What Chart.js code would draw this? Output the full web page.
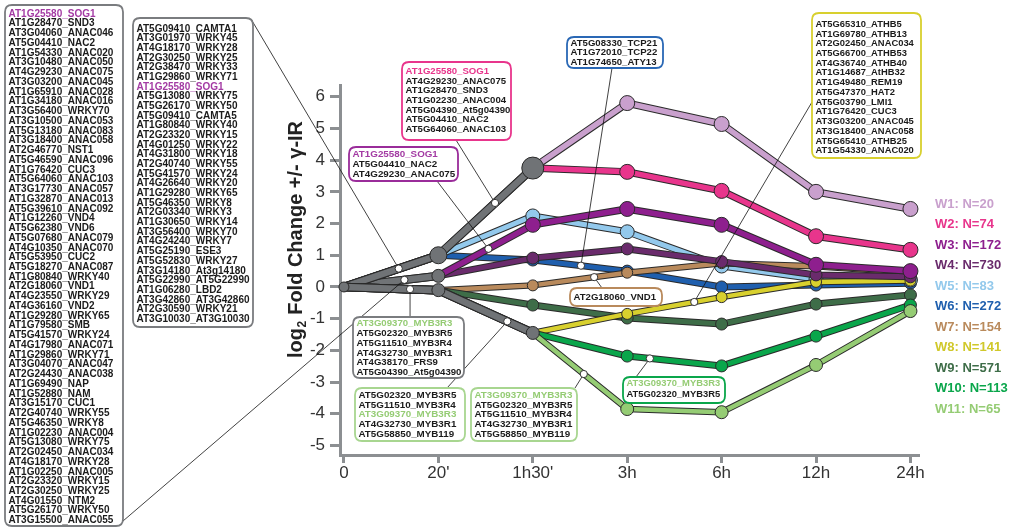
<!DOCTYPE html>
<html><head><meta charset="utf-8">
<script src="https://cdn.jsdelivr.net/npm/chart.js@4.4.0/dist/chart.umd.min.js"></script>
<style>html,body{margin:0;padding:0;background:#fff}#wrap{width:1013px;height:529px;position:relative}</style>
</head><body><div id="wrap"><canvas id="c" width="1013" height="529"></canvas></div>
<script>
// ---------------- DATA ----------------
const timeLabels = ["0", "20'", "1h30'", "3h", "6h", "12h", "24h"];
const yTicks = [-5, -4, -3, -2, -1, 0, 1, 2, 3, 4, 5, 6];
const clusterNames = ["W1", "W2", "W3", "W4", "W5", "W6", "W7", "W8", "W9", "W10", "W11"];
const clusterN = [20, 74, 172, 730, 83, 272, 154, 141, 571, 113, 65];
// mean log2 fold change per time point (0, 20', 1h30', 3h, 6h, 12h, 24h)
const W1  = [0, 1.00, 3.75, 5.80, 5.14, 3.00, 2.46];
const W2  = [0, 1.00, 3.75, 3.63, 3.03, 1.60, 1.17];
const W3  = [0, 0.35, 1.96, 2.46, 1.96, 0.70, 0.50];
const W4  = [0, 0.35, 0.91, 1.20, 0.80, 0.38, 0.32];
const W5  = [0, 1.00, 2.24, 1.74, 0.66, 0.25, 0.22];
const W6  = [0, 1.00, 0.85, 0.50, 0.00, 0.06, 0.12];
const W7  = [0, -0.10, 0.05, 0.45, 0.75, 0.65, 0.45];
const W8  = [0, -0.10, -1.45, -0.85, -0.32, 0.16, 0.20];
const W9  = [0, -0.10, -0.57, -0.98, -1.17, -0.54, -0.25];
const W10 = [0, -0.10, -1.45, -2.18, -2.49, -1.55, -0.57];
const W11 = [0, -0.10, -1.45, -3.85, -3.95, -2.46, -0.76];
// index of the time point where each cluster splits off the shared (grey) trunk
const branchAt = [2, 2, 1, 1, 1, 1, 1, 2, 1, 2, 2];

const genesLeft = ["AT1G25580_SOG1","AT1G28470_SND3","AT3G04060_ANAC046","AT5G04410_NAC2","AT1G54330_ANAC020","AT3G10480_ANAC050","AT4G29230_ANAC075","AT3G03200_ANAC045","AT1G65910_ANAC028","AT1G34180_ANAC016","AT3G56400_WRKY70","AT3G10500_ANAC053","AT5G13180_ANAC083","AT3G18400_ANAC058","AT2G46770_NST1","AT5G46590_ANAC096","AT1G76420_CUC3","AT5G64060_ANAC103","AT3G17730_ANAC057","AT1G32870_ANAC013","AT5G39610_ANAC092","AT1G12260_VND4","AT5G62380_VND6","AT5G07680_ANAC079","AT4G10350_ANAC070","AT5G53950_CUC2","AT5G18270_ANAC087","AT1G80840_WRKY40","AT2G18060_VND1","AT4G23550_WRKY29","AT4G36160_VND2","AT1G29280_WRKY65","AT1G79580_SMB","AT5G41570_WRKY24","AT4G17980_ANAC071","AT1G29860_WRKY71","AT3G04070_ANAC047","AT2G24430_ANAC038","AT1G69490_NAP","AT1G52880_NAM","AT3G15170_CUC1","AT2G40740_WRKY55","AT5G46350_WRKY8","AT1G02230_ANAC004","AT5G13080_WRKY75","AT2G02450_ANAC034","AT4G18170_WRKY28","AT1G02250_ANAC005","AT2G23320_WRKY15","AT2G30250_WRKY25","AT4G01550_NTM2","AT5G26170_WRKY50","AT3G15500_ANAC055"];
const genesSecond = ["AT5G09410_CAMTA1","AT3G01970_WRKY45","AT4G18170_WRKY28","AT2G30250_WRKY25","AT2G38470_WRKY33","AT1G29860_WRKY71","AT1G25580_SOG1","AT5G13080_WRKY75","AT5G26170_WRKY50","AT5G09410_CAMTA5","AT1G80840_WRKY40","AT2G23320_WRKY15","AT4G01250_WRKY22","AT4G31800_WRKY18","AT2G40740_WRKY55","AT5G41570_WRKY24","AT4G26640_WRKY20","AT1G29280_WRKY65","AT5G46350_WRKY8","AT2G03340_WRKY3","AT1G30650_WRKY14","AT3G56400_WRKY70","AT4G24240_WRKY7","AT5G25190_ESE3","AT5G52830_WRKY27","AT3G14180_At3g14180","AT5G22990_AT5G22990","AT1G06280_LBD2","AT3G42860_AT3G42860","AT2G30590_WRKY21","AT3G10030_AT3G10030"];
const genesPink = ["AT1G25580_SOG1","AT4G29230_ANAC075","AT1G28470_SND3","AT1G02230_ANAC004","AT5G04390_At5g04390","AT5G04410_NAC2","AT5G64060_ANAC103"];
const genesPurple = ["AT1G25580_SOG1","AT5G04410_NAC2","AT4G29230_ANAC075"];
const genesBlue = ["AT5G08330_TCP21","AT1G72010_TCP22","AT1G74650_ATY13"];
const genesYellow = ["AT5G65310_ATHB5","AT1G69780_ATHB13","AT2G02450_ANAC034","AT5G66700_ATHB53","AT4G36740_ATHB40","AT1G14687_AtHB32","AT1G49480_REM19","AT5G47370_HAT2","AT5G03790_LMI1","AT1G76420_CUC3","AT3G03200_ANAC045","AT3G18400_ANAC058","AT5G65410_ATHB25","AT1G54330_ANAC020"];
const genesBrown = ["AT2G18060_VND1"];
const genesGrey = ["AT3G09370_MYB3R3","AT5G02320_MYB3R5","AT5G11510_MYB3R4","AT4G32730_MYB3R1","AT4G38170_FRS9","AT5G04390_At5g04390"];
const genesLG1 = ["AT5G02320_MYB3R5","AT5G11510_MYB3R4","AT3G09370_MYB3R3","AT4G32730_MYB3R1","AT5G58850_MYB119"];
const genesLG2 = ["AT3G09370_MYB3R3","AT5G02320_MYB3R5","AT5G11510_MYB3R4","AT4G32730_MYB3R1","AT5G58850_MYB119"];
const genesGreen = ["AT3G09370_MYB3R3","AT5G02320_MYB3R5"];

// ---------------- STYLE ----------------
const series = [W1, W2, W3, W4, W5, W6, W7, W8, W9, W10, W11];
const colors = ['#c9a0cd','#e8358c','#8e1f8e','#6a2b6c','#93c9ec','#1f5fae','#b98a5c','#d8d02e','#3e6d48','#0aa64b','#95cc74'];
const legendColors = ['#c9a0cd','#e8358c','#8e1f8e','#6a2b6c','#93c9ec','#1f5fae','#b98a5c','#d0c82a','#3e6d48','#0aa64b','#95cc74'];
const lineW = [5.5, 5.5, 5.5, 5, 5, 5, 4.5, 4.5, 5, 5, 4.5];
const ptR  = [7.5, 7.5, 7.5, 6, 7, 6, 5.5, 5.5, 6, 6, 6.5];
const grey = '#707376';
const outline = '#2a2a2a';
const axisGrey = '#8c8f92';
const drawOrder = [5, 4, 6, 8, 7, 9, 10, 3, 2, 1, 0]; // bottom -> top
const FONT = '"Liberation Sans", Arial, sans-serif';

let stack = [];
for (const k of drawOrder) {
  const b = branchAt[k];
  const pts = [];
  series[k].forEach((v, i) => { if (i >= b) pts.push({x: i, y: v}); });
  stack.push({data: pts, borderColor: outline, borderWidth: lineW[k] + 2, pointRadius: 0, clip: false,
    borderJoinStyle: 'round', borderCapStyle: 'round', tension: 0});
  stack.push({data: pts, borderColor: colors[k], borderWidth: lineW[k], clip: false,
    borderJoinStyle: 'round', borderCapStyle: 'round', tension: 0,
    pointRadius: pts.map((p, j) => j === 0 ? 0 : ptR[k]),
    pointBackgroundColor: colors[k], pointBorderColor: outline, pointBorderWidth: 1});
}
// grey trunk
const nodeMap = new Map();
for (let k = 0; k < series.length; k++) {
  const b = branchAt[k];
  const pts = series[k].slice(0, b + 1).map((v, i) => ({x: i, y: v}));
  stack.push({data: pts, borderColor: outline, borderWidth: 8.5, pointRadius: 0, clip: false, borderJoinStyle: 'round', borderCapStyle: 'round'});
  stack.push({data: pts, borderColor: grey, borderWidth: 6.5, pointRadius: 0, clip: false, borderJoinStyle: 'round', borderCapStyle: 'round'});
  pts.forEach(p => nodeMap.set(p.x + ':' + p.y, p));
}
const nodes = Array.from(nodeMap.values());
const nodeRadius = p => p.x === 0 ? 5 : (p.x === 2 && p.y > 0 ? 11 : (p.x === 1 && p.y > 0.5 ? 8.5 : 6.5));
stack.push({data: nodes, showLine: false, clip: false, pointRadius: nodes.map(nodeRadius),
  pointBackgroundColor: grey, pointBorderColor: outline, pointBorderWidth: 1});
const datasets = stack.reverse();

// ---------------- ANNOTATIONS ----------------
const interp = (arr, x) => { const i = Math.floor(x); const f = x - i; return arr[i] + (arr[i + 1] - arr[i]) * f; };
const boxes = [
  {x: 5,   y: 5,   w: 118, h: 521, c: '#7a7c7f', fs: 10,  t0: 14,  lh: 9.74, lines: genesLeft, hi: {'AT1G25580_SOG1': '#a33aa3'}},
  {x: 133, y: 18,  w: 120, h: 309, c: '#7a7c7f', fs: 10,  t0: 29,  lh: 9.67, lines: genesSecond, hi: {'AT1G25580_SOG1': '#a33aa3'}},
  {x: 402, y: 62,  w: 109, h: 78,  c: '#e8358c', fs: 9.6, t0: 71.5, lh: 9.6, lines: genesPink, hi: {'AT1G25580_SOG1': '#e8358c'}},
  {x: 349, y: 147, w: 109, h: 34,  c: '#9a2c9a', fs: 9.8, t0: 154, lh: 10, lines: genesPurple, hi: {'AT1G25580_SOG1': '#a33aa3'}},
  {x: 567, y: 37,  w: 96,  h: 31,  c: '#2a68b5', fs: 9.6, t0: 43,  lh: 9.5, lines: genesBlue, hi: {}},
  {x: 812, y: 13,  w: 109, h: 145, c: '#d8d02e', fs: 9.4, t0: 24.3, lh: 9.72, lines: genesYellow, hi: {}},
  {x: 570, y: 288, w: 92,  h: 18,  c: '#b98a5c', fs: 9.6, t0: 297, lh: 10, lines: genesBrown, hi: {}},
  {x: 353, y: 317, w: 111, h: 61,  c: '#7a7c7f', fs: 9.6, t0: 323.5, lh: 9.8, lines: genesGrey, hi: {'AT3G09370_MYB3R3': '#95cc74'}},
  {x: 355, y: 388, w: 110, h: 53,  c: '#a8d690', fs: 9.8, t0: 395, lh: 9.8, lines: genesLG1, hi: {'AT3G09370_MYB3R3': '#95cc74'}},
  {x: 471, y: 388, w: 106, h: 53,  c: '#a8d690', fs: 9.8, t0: 395, lh: 9.8, lines: genesLG2, hi: {'AT3G09370_MYB3R3': '#95cc74'}},
  {x: 623, y: 377, w: 102, h: 26,  c: '#0aa64b', fs: 9.4, t0: 383, lh: 11, lines: genesGreen, hi: {'AT3G09370_MYB3R3': '#95cc74'}}
];
const anchors = [
  {s: W1,  x: 0.58, to: [251, 19]},
  {s: W3,  x: 0.64, to: [123, 521]},
  {s: W7,  x: 0.70, to: ['v', 317]},
  {s: W1,  x: 1.60, to: [456, 140]},
  {s: W3,  x: 1.53, to: [437, 181]},
  {s: W8,  x: 1.73, to: [447, 388]},
  {s: W11, x: 2.54, to: [575, 388]},
  {s: W10, x: 3.24, to: [636, 377]},
  {s: W7,  x: 2.65, to: [602, 288]},
  {s: W6,  x: 2.51, to: [612, 68]},
  {s: W8,  x: 3.71, to: [812, 102]}
];

function rrect(ctx, x, y, w, h, r) {
  ctx.beginPath();
  ctx.moveTo(x + r, y); ctx.lineTo(x + w - r, y); ctx.quadraticCurveTo(x + w, y, x + w, y + r);
  ctx.lineTo(x + w, y + h - r); ctx.quadraticCurveTo(x + w, y + h, x + w - r, y + h);
  ctx.lineTo(x + r, y + h); ctx.quadraticCurveTo(x, y + h, x, y + h - r);
  ctx.lineTo(x, y + r); ctx.quadraticCurveTo(x, y, x + r, y); ctx.closePath();
}

const overlay = {
  id: 'overlay',
  afterDraw(chart) {
    const ctx = chart.ctx, xs = chart.scales.x, ys = chart.scales.y;
    ctx.save();
    // y title
    ctx.save();
    ctx.translate(296, 240); ctx.rotate(-Math.PI / 2);
    ctx.fillStyle = '#222'; ctx.textBaseline = 'middle';
    const f1 = 'bold 20px ' + FONT, f2 = 'bold 12px ' + FONT;
    ctx.font = f1; const a = 'log', c = ' Fold Change +/- γ-IR';
    const wa = ctx.measureText(a).width, wc = ctx.measureText(c).width;
    ctx.font = f2; const wb = ctx.measureText('2').width;
    let x0 = -(wa + wb + wc) / 2;
    ctx.font = f1; ctx.textAlign = 'left'; ctx.fillText(a, x0, 0);
    ctx.font = f2; ctx.fillText('2', x0 + wa + 0.5, 7);
    ctx.font = f1; ctx.fillText(c, x0 + wa + wb + 1, 0);
    ctx.restore();
    // legend
    ctx.font = 'bold 13px ' + FONT; ctx.textAlign = 'left'; ctx.textBaseline = 'middle';
    clusterNames.forEach((n, i) => {
      ctx.fillStyle = legendColors[i];
      ctx.fillText(n + ': N=' + clusterN[i], 935, 204 + i * 20.5);
    });
    // leaders
    ctx.strokeStyle = '#111'; ctx.lineWidth = 0.8;
    const apx = anchors.map(an => ({px: xs.getPixelForValue(an.x), py: ys.getPixelForValue(interp(an.s, an.x)), to: an.to}));
    apx.forEach(p => {
      const tx = p.to[0] === 'v' ? p.px : p.to[0];
      ctx.beginPath(); ctx.moveTo(p.px, p.py); ctx.lineTo(tx, p.to[1]); ctx.stroke();
    });
    // boxes
    boxes.forEach(b => {
      rrect(ctx, b.x, b.y, b.w, b.h, 7);
      ctx.fillStyle = '#fff'; ctx.fill();
      ctx.strokeStyle = b.c; ctx.lineWidth = 1.8; ctx.stroke();
      ctx.font = 'bold ' + b.fs + 'px ' + FONT; ctx.textBaseline = 'middle'; ctx.textAlign = 'left';
      b.lines.forEach((t, i) => {
        ctx.fillStyle = b.hi[t] || '#1b1b1b';
        ctx.fillText(t, b.x + 3.5, b.t0 + i * b.lh);
      });
    });
    // anchor dots
    apx.forEach(p => {
      ctx.beginPath(); ctx.arc(p.px, p.py, 3.6, 0, Math.PI * 2);
      ctx.fillStyle = '#fff'; ctx.fill(); ctx.strokeStyle = '#222'; ctx.lineWidth = 0.9; ctx.stroke();
    });
    ctx.restore();
  }
};

new Chart(document.getElementById('c'), {
  type: 'line',
  data: {datasets},
  options: {
    responsive: false, animation: false, devicePixelRatio: 1,
    layout: {padding: {left: 280, right: 95, top: 85, bottom: 44}},
    plugins: {legend: {display: false}, tooltip: {enabled: false}},
    elements: {line: {tension: 0}},
    scales: {
      x: {type: 'linear', min: -0.042, max: 6.08,
        afterBuildTicks: ax => { ax.ticks = timeLabels.map((_, i) => ({value: i})); },
        afterFit: ax => { ax.height = 30; },
        ticks: {callback: v => timeLabels[v] ?? '', font: {size: 17, family: FONT}, color: '#333', padding: 0, maxRotation: 0, autoSkip: false},
        grid: {drawOnChartArea: false, drawTicks: true, tickLength: 8, color: axisGrey, lineWidth: 3},
        border: {display: true, color: axisGrey, width: 3}
      },
      y: {type: 'linear', min: -5.3, max: 6.37,
        afterBuildTicks: ax => { ax.ticks = yTicks.map(v => ({value: v})); },
        afterFit: ax => { ax.width = 60; },
        ticks: {font: {size: 17, family: FONT}, color: '#333', padding: 5},
        grid: {drawOnChartArea: false, drawTicks: true, tickLength: 10, color: axisGrey, lineWidth: 3},
        border: {display: true, color: axisGrey, width: 3}
      }
    }
  },
  plugins: [overlay]
});
</script></body></html>
